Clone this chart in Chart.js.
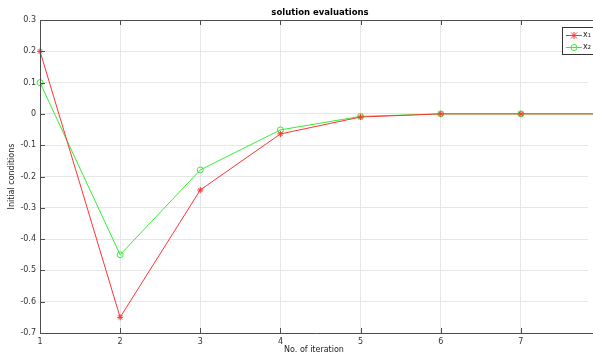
<!DOCTYPE html>
<html>
<head>
<meta charset="utf-8">
<script src="https://cdn.jsdelivr.net/npm/chart.js@4"></script>
<style>
  html, body { margin: 0; padding: 0; background: #fff; }
  #wrap { width: 593px; height: 356px; }
</style>
</head>
<body>
<div id="wrap"><canvas id="chart-line" width="593" height="356"></canvas></div>
<script>
// data
const iterations = [1, 2, 3, 4, 5, 6, 7, 8];
const x1Values = [0.2, -0.65, -0.243, -0.064, -0.01, 0, 0, 0];
const x2Values = [0.1, -0.45, -0.179, -0.051, -0.008, 0, 0, 0];
const xTicks = [1, 2, 3, 4, 5, 6, 7];
const yTicks = [0.3, 0.2, 0.1, 0, -0.1, -0.2, -0.3, -0.4, -0.5, -0.6, -0.7];
const seriesNames = ["x\u2081", "x\u2082"];

const FONT = "DejaVu Sans";
const AXIS_COLOR = "#4d4d4d";

function toPoints(vals) {
  return iterations.map((it, i) => ({ x: it, y: vals[i] }));
}

// matlab style box, inward ticks, title and legend
const matlabBox = {
  id: "matlabBox",
  afterDraw(chart) {
    const { ctx, chartArea: a } = chart;
    const xs = chart.scales.x, ys = chart.scales.y;
    ctx.save();
    ctx.strokeStyle = AXIS_COLOR;
    ctx.lineWidth = 1;
    ctx.beginPath();
    ctx.moveTo(a.left + 0.5, a.bottom + 0.5);
    ctx.lineTo(a.left + 0.5, a.top + 0.5);
    ctx.lineTo(593, a.top + 0.5);
    ctx.moveTo(a.left, a.bottom + 0.5);
    ctx.lineTo(593, a.bottom + 0.5);
    // inward ticks
    xTicks.forEach((t) => {
      const px = Math.round(xs.getPixelForValue(t)) + 0.5;
      ctx.moveTo(px, a.bottom);
      ctx.lineTo(px, a.bottom - 5);
      ctx.moveTo(px, a.top);
      ctx.lineTo(px, a.top + 5);
    });
    yTicks.forEach((t) => {
      const py = Math.round(ys.getPixelForValue(t)) + 0.5;
      ctx.moveTo(a.left, py);
      ctx.lineTo(a.left + 5, py);
    });
    ctx.stroke();

    // title
    ctx.fillStyle = "#000";
    ctx.font = "bold 8.5px '" + FONT + "'";
    ctx.textAlign = "center";
    ctx.textBaseline = "middle";
    ctx.fillText("solution evaluations", 320, 13);

    // legend box
    const lx = 562, ly = 27, lw = 31, lh = 27;
    ctx.fillStyle = "#fff";
    ctx.fillRect(lx, ly, lw, lh);
    ctx.strokeStyle = "#333";
    ctx.strokeRect(lx + 0.5, ly + 0.5, lw, lh);
    const colors = ["#ff3333", "#33ee33"];
    seriesNames.forEach((name, i) => {
      const yy = ly + 8 + i * 12;
      ctx.strokeStyle = colors[i];
      ctx.beginPath();
      ctx.moveTo(lx + 4, yy + 0.5);
      ctx.lineTo(lx + 20, yy + 0.5);
      ctx.stroke();
      if (i === 0) {
        ctx.beginPath();
        ctx.moveTo(lx + 9, yy - 2.5); ctx.lineTo(lx + 15, yy + 3.5);
        ctx.moveTo(lx + 15, yy - 2.5); ctx.lineTo(lx + 9, yy + 3.5);
        ctx.moveTo(lx + 12, yy - 3); ctx.lineTo(lx + 12, yy + 4);
        ctx.stroke();
      } else {
        ctx.beginPath();
        ctx.arc(lx + 12, yy + 0.5, 3, 0, Math.PI * 2);
        ctx.stroke();
      }
      ctx.fillStyle = "#222";
      ctx.font = "8px '" + FONT + "'";
      ctx.textAlign = "left";
      ctx.fillText(name, lx + 21, yy);
    });
    ctx.restore();
  },
};

const ctx = document.getElementById("chart-line");
const chart = new Chart(ctx, {
  type: "line",
  data: {
    datasets: [
      {
        label: seriesNames[0],
        data: toPoints(x1Values),
        borderColor: "#ff3333",
        backgroundColor: "#ff3333",
        borderWidth: 1,
        pointStyle: "star",
        pointRadius: 3,
        pointBorderWidth: 1,
        tension: 0,
        clip: false,
      },
      {
        label: seriesNames[1],
        data: toPoints(x2Values),
        borderColor: "#33ee33",
        backgroundColor: "rgba(0,0,0,0)",
        borderWidth: 1,
        pointStyle: "circle",
        pointRadius: 3,
        pointBorderWidth: 1,
        tension: 0,
        clip: false,
      },
    ],
  },
  options: {
    responsive: false,
    animation: false,
    layout: { padding: { top: 20, right: 0, left: 0, bottom: 0 } },
    plugins: {
      legend: { display: false },
      title: { display: false },
      tooltip: { enabled: false },
    },
    scales: {
      x: {
        type: "linear",
        min: 1,
        max: 7.8375,
        afterBuildTicks: (s) => { s.ticks = xTicks.map((v) => ({ value: v })); },
        afterFit: (s) => { s.height = 23; s.paddingRight = 0; s.paddingLeft = 0; },
        grid: { color: "#e6e6e6", drawTicks: false },
        border: { display: false },
        ticks: {
          color: "#333",
          font: { family: FONT, size: 8 },
          padding: 4,
          maxRotation: 0,
        },
        title: {
          display: true,
          text: "No. of iteration",
          color: "#222",
          font: { family: FONT, size: 8 },
          padding: { top: 0, bottom: 1 },
        },
      },
      y: {
        min: -0.7,
        max: 0.3,
        afterBuildTicks: (s) => { s.ticks = yTicks.map((v) => ({ value: v })); },
        afterFit: (s) => { s.width = 40; s.paddingTop = 0; s.paddingBottom = 0; },
        grid: { color: "#e6e6e6", drawTicks: false },
        border: { display: false },
        ticks: {
          color: "#333",
          font: { family: FONT, size: 8 },
          padding: 4,
          callback: (v) => (Math.abs(v) < 1e-9 ? "0" : v.toFixed(1)),
        },
        title: {
          display: true,
          text: "Initial conditions",
          color: "#222",
          font: { family: FONT, size: 8 },
          padding: { top: 7, bottom: 0 },
        },
      },
    },
  },
  plugins: [matlabBox],
});
</script>
</body>
</html>
